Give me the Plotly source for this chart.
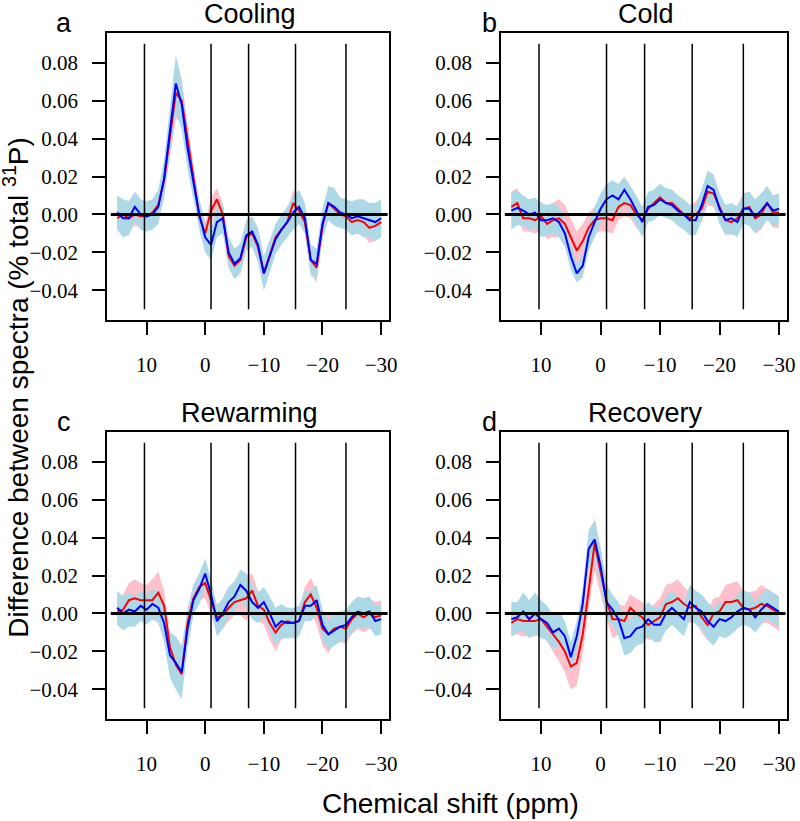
import plotly.graph_objects as go

# chemical shift grid (ppm), read every 1 ppm off the figure
ppm = [15, 14, 13, 12, 11, 10, 9, 8, 7, 6, 5, 4, 3, 2, 1, 0, -1, -2, -3, -4,
       -5, -6, -7, -8, -9, -10, -11, -12, -13, -14, -15, -16, -17, -18, -19,
       -20, -21, -22, -23, -24, -25, -26, -27, -28, -29, -30]

cooling_red = [-0.002, 0.000, -0.002, 0.000, -0.001, -0.001, 0.001, 0.005, 0.018, 0.040,
               0.064, 0.060, 0.040, 0.019, -0.001, -0.010, 0.002, 0.008, 0.000, -0.022,
               -0.027, -0.024, -0.012, -0.010, -0.017, -0.031, -0.022, -0.012, -0.008, -0.004,
               0.006, 0.002, -0.004, -0.024, -0.028, -0.006, 0.006, 0.003, 0.000, -0.001,
               -0.004, -0.003, -0.004, -0.007, -0.006, -0.004]
cooling_blue = [0.001, -0.002, -0.002, 0.004, 0.000, -0.001, 0.000, 0.004, 0.019, 0.044,
                0.069, 0.058, 0.035, 0.017, 0.000, -0.012, -0.016, -0.004, -0.002, -0.020,
                -0.026, -0.023, -0.011, -0.009, -0.016, -0.031, -0.022, -0.013, -0.008, -0.004,
                0.001, 0.004, -0.002, -0.024, -0.026, -0.005, 0.006, 0.004, 0.001, 0.000,
                -0.002, -0.001, -0.002, -0.003, -0.004, -0.002]
cooling_red_err = [0.006, 0.006, 0.006, 0.006, 0.006, 0.006, 0.006, 0.006, 0.008, 0.010,
                   0.014, 0.010, 0.008, 0.007, 0.006, 0.006, 0.007, 0.006, 0.006, 0.006,
                   0.007, 0.007, 0.007, 0.007, 0.006, 0.007, 0.006, 0.006, 0.006, 0.006,
                   0.007, 0.006, 0.006, 0.007, 0.008, 0.006, 0.006, 0.006, 0.006, 0.006,
                   0.007, 0.007, 0.007, 0.008, 0.008, 0.007]
cooling_blue_err = [0.009, 0.010, 0.009, 0.008, 0.008, 0.008, 0.008, 0.009, 0.010, 0.013,
                    0.015, 0.013, 0.011, 0.009, 0.008, 0.008, 0.008, 0.008, 0.008, 0.008,
                    0.008, 0.008, 0.008, 0.008, 0.009, 0.009, 0.008, 0.008, 0.008, 0.008,
                    0.009, 0.009, 0.008, 0.008, 0.008, 0.008, 0.009, 0.010, 0.008, 0.008,
                    0.009, 0.009, 0.010, 0.009, 0.010, 0.010]

cold_red = [0.004, 0.006, -0.002, -0.002, -0.003, -0.001, -0.005, -0.003, -0.002, -0.005,
            -0.012, -0.019, -0.014, -0.007, -0.003, -0.002, -0.002, -0.003, 0.004, 0.006,
            0.005, 0.000, -0.003, 0.003, 0.006, 0.009, 0.006, 0.006, 0.003, 0.000,
            -0.002, 0.000, 0.003, 0.012, 0.011, 0.004, -0.003, -0.004, -0.002, 0.003,
            0.004, -0.002, 0.000, 0.006, 0.001, 0.001]
cold_blue = [0.002, 0.0035, 0.002, 0.000, 0.001, -0.003, -0.003, -0.002, -0.004, -0.010,
             -0.022, -0.031, -0.027, -0.012, -0.004, 0.003, 0.008, 0.010, 0.008, 0.013,
             0.008, 0.002, -0.004, 0.004, 0.005, 0.008, 0.006, 0.005, 0.002, 0.000,
             -0.003, -0.003, 0.005, 0.015, 0.013, 0.003, -0.003, -0.002, -0.004, 0.003,
             0.003, -0.001, 0.002, 0.006, 0.002, 0.003]
cold_red_err = [0.008, 0.008, 0.007, 0.007, 0.007, 0.008, 0.008, 0.009, 0.010, 0.010,
                0.010, 0.010, 0.009, 0.008, 0.007, 0.007, 0.007, 0.007, 0.007, 0.007,
                0.007, 0.007, 0.007, 0.007, 0.007, 0.007, 0.007, 0.007, 0.007, 0.007,
                0.007, 0.007, 0.007, 0.007, 0.007, 0.007, 0.007, 0.007, 0.007, 0.008,
                0.008, 0.008, 0.008, 0.008, 0.008, 0.008]
cold_blue_err = [0.010, 0.009, 0.008, 0.008, 0.008, 0.009, 0.008, 0.008, 0.008, 0.007,
                 0.007, 0.005, 0.006, 0.007, 0.008, 0.008, 0.008, 0.008, 0.008, 0.007,
                 0.007, 0.008, 0.008, 0.008, 0.008, 0.008, 0.008, 0.008, 0.008, 0.008,
                 0.008, 0.008, 0.008, 0.008, 0.008, 0.008, 0.008, 0.008, 0.008, 0.008,
                 0.009, 0.009, 0.009, 0.009, 0.008, 0.008]

rewarming_red = [0.001, 0.002, 0.007, 0.008, 0.007, 0.007, 0.007, 0.011, 0.004, -0.018,
                 -0.027, -0.032, -0.005, 0.008, 0.014, 0.016, 0.007, -0.002, -0.001, 0.003,
                 0.006, 0.007, 0.008, 0.012, 0.004, 0.002, -0.005, -0.010, -0.006, -0.004,
                 -0.005, -0.004, 0.006, 0.010, 0.003, -0.008, -0.011, -0.008, -0.007, -0.008,
                 -0.003, 0.000, -0.002, 0.000, -0.002, -0.001]
rewarming_blue = [0.003, 0.000, 0.002, 0.001, 0.004, 0.002, 0.005, 0.003, -0.005, -0.022,
                  -0.026, -0.031, -0.008, 0.007, 0.013, 0.021, 0.010, -0.004, 0.000, 0.006,
                  0.009, 0.015, 0.012, 0.006, 0.003, 0.006, 0.000, -0.007, -0.004, -0.005,
                  -0.005, -0.004, 0.004, 0.004, 0.007, -0.006, -0.011, -0.009, -0.007, -0.006,
                  -0.002, 0.001, 0.000, 0.001, -0.004, -0.003]
rewarming_red_err = [0.007, 0.008, 0.009, 0.010, 0.009, 0.008, 0.011, 0.011, 0.008, 0.008,
                     0.008, 0.008, 0.008, 0.007, 0.007, 0.008, 0.008, 0.007, 0.007, 0.007,
                     0.007, 0.008, 0.012, 0.009, 0.008, 0.008, 0.009, 0.010, 0.008, 0.007,
                     0.007, 0.007, 0.008, 0.009, 0.009, 0.009, 0.010, 0.008, 0.008, 0.008,
                     0.008, 0.008, 0.008, 0.008, 0.008, 0.008]
rewarming_blue_err = [0.009, 0.009, 0.009, 0.008, 0.008, 0.008, 0.008, 0.008, 0.010, 0.012,
                      0.014, 0.014, 0.010, 0.008, 0.008, 0.008, 0.008, 0.008, 0.008, 0.008,
                      0.008, 0.008, 0.009, 0.009, 0.008, 0.008, 0.009, 0.010, 0.009, 0.008,
                      0.008, 0.008, 0.008, 0.008, 0.008, 0.008, 0.008, 0.008, 0.008, 0.008,
                      0.008, 0.008, 0.008, 0.008, 0.008, 0.008]

recovery_red = [-0.005, -0.003, -0.004, -0.004, -0.004, -0.003, -0.007, -0.011, -0.015, -0.020,
                -0.028, -0.026, -0.011, 0.012, 0.037, 0.022, 0.007, -0.003, -0.003, -0.004,
                0.003, 0.000, -0.002, -0.006, -0.004, -0.002, 0.005, 0.006, 0.008, 0.005,
                0.003, 0.004, -0.002, -0.006, 0.000, 0.001, 0.006, 0.006, 0.007, 0.003,
                0.002, 0.003, 0.005, 0.004, 0.002, 0.000]
recovery_blue = [-0.003, -0.002, 0.001, -0.003, 0.000, -0.003, -0.005, -0.010, -0.008, -0.012,
                 -0.023, -0.012, 0.005, 0.034, 0.039, 0.025, 0.006, 0.002, -0.003, -0.013,
                 -0.012, -0.008, -0.007, -0.003, -0.006, -0.006, 0.000, 0.003, 0.000, -0.003,
                 0.006, 0.003, 0.001, -0.004, -0.007, -0.003, -0.004, -0.002, 0.001, 0.003,
                 0.002, -0.002, 0.002, 0.005, 0.003, 0.001]
recovery_red_err = [0.007, 0.008, 0.008, 0.008, 0.008, 0.008, 0.008, 0.009, 0.010, 0.011,
                    0.012, 0.012, 0.010, 0.010, 0.014, 0.012, 0.010, 0.010, 0.008, 0.008,
                    0.007, 0.008, 0.008, 0.008, 0.009, 0.010, 0.010, 0.010, 0.010, 0.009,
                    0.008, 0.008, 0.008, 0.008, 0.008, 0.008, 0.009, 0.010, 0.010, 0.009,
                    0.009, 0.009, 0.010, 0.009, 0.009, 0.009]
recovery_blue_err = [0.009, 0.008, 0.010, 0.010, 0.011, 0.010, 0.009, 0.009, 0.009, 0.008,
                     0.008, 0.008, 0.008, 0.010, 0.010, 0.010, 0.009, 0.008, 0.009, 0.009,
                     0.009, 0.009, 0.009, 0.009, 0.009, 0.009, 0.009, 0.009, 0.009, 0.009,
                     0.009, 0.009, 0.009, 0.010, 0.010, 0.009, 0.009, 0.009, 0.009, 0.009,
                     0.009, 0.008, 0.008, 0.008, 0.008, 0.008]

panel_titles = ["Cooling", "Cold", "Rewarming", "Recovery"]
panel_letters = ["a", "b", "c", "d"]
region_bounds = [10.35, -1.0, -7.4, -15.4, -24.0]
x_ticks = [10, 0, -10, -20, -30]
y_ticks = [-0.04, -0.02, 0.00, 0.02, 0.04, 0.06, 0.08]

panels = [
    (cooling_red, cooling_blue, cooling_red_err, cooling_blue_err),
    (cold_red, cold_blue, cold_red_err, cold_blue_err),
    (rewarming_red, rewarming_blue, rewarming_red_err, rewarming_blue_err),
    (recovery_red, recovery_blue, recovery_red_err, recovery_blue_err),
]

W, H = 800, 821
# plot boxes in pixels: (left, right, top, bottom)
boxes = [(108, 393, 33, 320), (506, 795, 33, 320),
         (108, 393, 432, 719), (506, 795, 432, 719)]

SANS = "Liberation Sans"
SERIF = "Liberation Serif"


def band(x, mid, err, color, xa, ya):
    upper = [m + e for m, e in zip(mid, err)]
    lower = [m - e for m, e in zip(mid, err)]
    return go.Scatter(x=x + x[::-1], y=upper + lower[::-1], fill="toself",
                      fillcolor=color, line=dict(width=0), mode="lines",
                      xaxis=xa, yaxis=ya, hoverinfo="skip")


fig = go.Figure()
shapes = []
annotations = []
layout_axes = {}

for i, (red, blue, red_err, blue_err) in enumerate(panels):
    n = i + 1
    xa, ya = f"x{n}", f"y{n}"
    fig.add_trace(band(ppm, red, red_err, "#ffc0cb", xa, ya))
    fig.add_trace(band(ppm, blue, blue_err, "#add8e6", xa, ya))
    fig.add_trace(go.Scatter(x=ppm, y=red, mode="lines", line=dict(color="#ff0000", width=2),
                             xaxis=xa, yaxis=ya))
    fig.add_trace(go.Scatter(x=ppm, y=blue, mode="lines", line=dict(color="#0000ff", width=2),
                             xaxis=xa, yaxis=ya))

    l, r, t, b = boxes[i]
    layout_axes[f"xaxis{n}"] = dict(
        domain=[l / W, r / W], anchor=ya, range=[16.75, -31.35],
        tickvals=x_ticks, ticks="outside", ticklen=13, tickwidth=1.5, tickcolor="black",
        showline=True, mirror=True, linecolor="black", linewidth=1.5,
        showgrid=False, zeroline=False, ticklabelstandoff=12,
        tickfont=dict(family=SERIF, size=21, color="black"))
    layout_axes[f"yaxis{n}"] = dict(
        domain=[1 - b / H, 1 - t / H], anchor=xa, range=[-0.0556, 0.0956],
        tickvals=y_ticks, tickformat=".2f", ticks="outside", ticklen=13, tickwidth=1.5,
        tickcolor="black", showline=True, mirror=True, linecolor="black", linewidth=1.5,
        showgrid=False, zeroline=False, ticklabelstandoff=10,
        tickfont=dict(family=SERIF, size=21, color="black"))

    for pos in region_bounds:
        shapes.append(dict(type="line", xref=xa, yref=ya, x0=pos, x1=pos, y0=-0.05, y1=0.09,
                           line=dict(color="black", width=1.5), layer="above"))
    shapes.append(dict(type="line", xref=xa, yref=ya, x0=16.1, x1=-31.1, y0=0, y1=0,
                       line=dict(color="black", width=3), layer="above"))

    cx = (l + r) / 2 + 2
    annotations.append(dict(text=panel_titles[i], x=cx / W, y=1 - (t - 19) / H,
                            xref="paper", yref="paper", showarrow=False,
                            xanchor="center", yanchor="middle",
                            font=dict(family=SANS, size=27, color="black")))
    annotations.append(dict(text=panel_letters[i], x=(l - 43 if i % 2 == 0 else l - 12) / W,
                            y=1 - (t - 10) / H, xref="paper", yref="paper", showarrow=False,
                            xanchor="center", yanchor="middle",
                            font=dict(family=SANS, size=27, color="black")))

annotations.append(dict(text="Difference between spectra (% total <sup>31</sup>P)",
                        x=16 / W, y=1 - 387 / H, xref="paper", yref="paper", showarrow=False,
                        textangle=-90, xanchor="center", yanchor="middle",
                        font=dict(family=SANS, size=28, color="black")))
annotations.append(dict(text="Chemical shift (ppm)", x=455 / W, y=1 - 803 / H,
                        xref="paper", yref="paper", showarrow=False,
                        xanchor="center", yanchor="middle",
                        font=dict(family=SANS, size=28, color="black")))

fig.update_layout(
    width=W, height=H,
    margin=dict(l=0, r=0, t=0, b=0),
    paper_bgcolor="white", plot_bgcolor="white",
    showlegend=False,
    shapes=shapes, annotations=annotations,
    **layout_axes
)

# drop the default 8px page margin so the figure fills the window exactly
fig.write_html("out.html", config={"displayModeBar": False},
               post_script="document.body.style.margin='0';document.body.style.overflow='hidden';")
